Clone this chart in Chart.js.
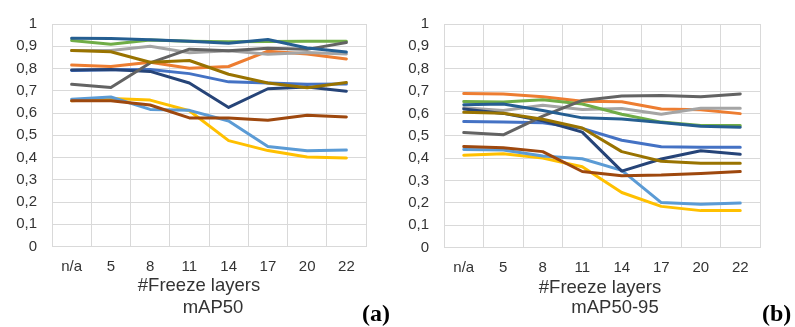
<!DOCTYPE html>
<html>
<head>
<meta charset="utf-8">
<script src="https://cdn.jsdelivr.net/npm/chart.js@4"></script>
<style>
  body { margin: 0; background: #fff; }
  #wrap { position: relative; width: 795px; height: 327px; overflow: hidden; font-family: "Liberation Sans", Arial, sans-serif; color: #333; }
  canvas { position: absolute; top: 0; }
  .lbl { position: absolute; font-size: 18.5px; white-space: nowrap; transform: translate(-50%, -50%); }
  .tag { position: absolute; font-family: "Liberation Serif", "DejaVu Serif", serif; font-weight: bold; font-size: 24px; color: #000; transform: translateY(-50%); }
</style>
</head>
<body>
<div id="wrap">
  <canvas id="graphA" width="400" height="327" style="left:0"></canvas>
  <canvas id="graphB" width="395" height="327" style="left:400px"></canvas>
  <div class="lbl" style="left:199px; top:285px">#Freeze layers</div>
  <div class="lbl" style="left:213px; top:307px">mAP50</div>
  <div class="tag" style="left:362px; top:313px">(a)</div>
  <div class="lbl" style="left:600px; top:287px">#Freeze layers</div>
  <div class="lbl" style="left:615px; top:307px">mAP50-95</div>
  <div class="tag" style="left:762px; top:313px">(b)</div>
</div>
<script>
const categories = ['n/a', '5', '8', '11', '14', '17', '20', '22']
const seriesNames = ['Series 1', 'Series 2', 'Series 3', 'Series 4', 'Series 5', 'Series 6',
                     'Series 7', 'Series 8', 'Series 9', 'Series 10', 'Series 11']
const colors = ['#4472C4', '#ED7D31', '#A5A5A5', '#FFC000', '#5B9BD5', '#70AD47',
                '#264478', '#9E480E', '#636363', '#997300', '#255E91']

// mAP50
const map50 = [
    [0.791, 0.794, 0.796, 0.777, 0.740, 0.735, 0.729, 0.730],
    [0.816, 0.809, 0.828, 0.801, 0.809, 0.878, 0.865, 0.843],
    [0.881, 0.881, 0.900, 0.871, 0.880, 0.864, 0.872, 0.865],
    [0.655, 0.665, 0.658, 0.610, 0.476, 0.431, 0.402, 0.398],
    [0.662, 0.672, 0.616, 0.612, 0.564, 0.449, 0.430, 0.434],
    [0.926, 0.909, 0.928, 0.923, 0.920, 0.921, 0.923, 0.923],
    [0.793, 0.796, 0.787, 0.735, 0.625, 0.709, 0.717, 0.698],
    [0.655, 0.655, 0.636, 0.578, 0.577, 0.567, 0.590, 0.582],
    [0.729, 0.715, 0.825, 0.887, 0.880, 0.891, 0.886, 0.917],
    [0.881, 0.875, 0.828, 0.836, 0.774, 0.735, 0.713, 0.737],
    [0.936, 0.935, 0.929, 0.922, 0.914, 0.930, 0.892, 0.874]
]

// mAP50-95
const map5095 = [
    [0.564, 0.561, 0.558, 0.533, 0.480, 0.451, 0.449, 0.449],
    [0.689, 0.687, 0.675, 0.654, 0.652, 0.620, 0.616, 0.599],
    [0.625, 0.613, 0.636, 0.617, 0.622, 0.596, 0.623, 0.623],
    [0.413, 0.419, 0.400, 0.361, 0.246, 0.184, 0.165, 0.165],
    [0.439, 0.436, 0.409, 0.397, 0.345, 0.201, 0.194, 0.199],
    [0.653, 0.651, 0.661, 0.642, 0.596, 0.561, 0.546, 0.546],
    [0.620, 0.600, 0.567, 0.516, 0.342, 0.396, 0.433, 0.417],
    [0.452, 0.446, 0.429, 0.340, 0.321, 0.324, 0.331, 0.340],
    [0.514, 0.504, 0.588, 0.658, 0.678, 0.680, 0.675, 0.687],
    [0.605, 0.601, 0.574, 0.535, 0.429, 0.386, 0.377, 0.377],
    [0.639, 0.642, 0.613, 0.580, 0.575, 0.559, 0.542, 0.538]
]

const gridColor = '#D9D9D9'
const tickFont = {family: 'Liberation Sans', size: 15}

function createGraph(id, values, yWidth, top, right, xHeight){
    const ctx = document.querySelector(id).getContext('2d')
    const datasets = values.map((vals, i) => ({
        label: seriesNames[i],
        data: vals,
        borderColor: colors[i],
        backgroundColor: colors[i],
        borderWidth: 3,
        pointRadius: 0,
        tension: 0,
        borderJoinStyle: 'round',
        borderCapStyle: 'round',
        order: values.length - i
    }))
    return new Chart(ctx, {
        type: 'line',
        data: {labels: categories, datasets: datasets},
        options: {
            responsive: false,
            animation: false,
            layout: {padding: {left: 0, top: top, right: right, bottom: 0}},
            plugins: {legend: {display: false}, tooltip: {enabled: false}},
            scales: {
                x: {
                    offset: true,
                    grid: {offset: true, color: gridColor, lineWidth: 1, drawTicks: false},
                    border: {color: gridColor},
                    ticks: {font: tickFont, color: '#333', padding: 11, maxRotation: 0},
                    afterFit: (scale) => { scale.height = xHeight }
                },
                y: {
                    min: 0, max: 1,
                    grid: {color: gridColor, lineWidth: 1, drawTicks: false},
                    border: {color: gridColor},
                    ticks: {
                        stepSize: 0.1, font: tickFont, color: '#333', padding: 15,
                        callback: (v) => (Math.round(v * 10) / 10).toString().replace('.', ',')
                    },
                    afterFit: (scale) => { scale.width = yWidth }
                }
            }
        }
    })
}

createGraph('#graphA', map50, 52, 16.5, 34, 80.5)
createGraph('#graphB', map5095, 44, 17, 35, 79.5)
</script>
</body>
</html>
